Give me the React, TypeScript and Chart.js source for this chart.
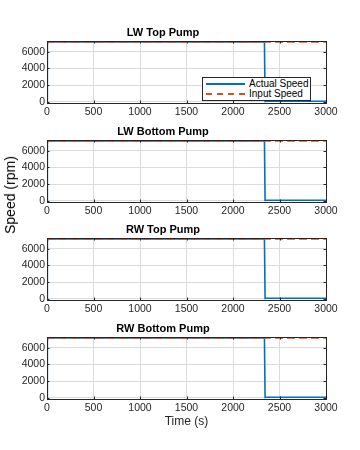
import React, { useEffect, useRef } from "react";
import { Chart, registerables } from "chart.js";

Chart.register(...registerables);

const titles = ["LW Top Pump", "LW Bottom Pump", "RW Top Pump", "RW Bottom Pump"];
const actualTime = [0, 4, 12, 2330, 2338, 2345, 2350, 3000];
const actualSpeed = [0, 6900, 7200, 7200, 7200, 40, 60, 60];
const inputTime = [0, 3000];
const inputSpeed = [7200, 7200];
const xTicks = [0, 500, 1000, 1500, 2000, 2500, 3000];
const yTicks = [0, 2000, 4000, 6000];

const BLUE = "#0072BD";
const ORANGE = "#D95319";
const AXIS = "#262626";
const FONT = "'Liberation Sans', Arial, Helvetica, sans-serif";

const plotTops = [41, 140, 238, 337];
const PLOT_H = 62;
const TITLE_H = 24;
const XAX_H = 16;
const LAST_XAX_H = 30;

const boxPlugin = {
  id: "matlabBox",
  afterDraw(chart: any) {
    const { ctx, chartArea } = chart;
    const { left, right, top, bottom } = chartArea;
    const xs = chart.scales.x;
    const ys = chart.scales.y;
    ctx.save();
    ctx.strokeStyle = AXIS;
    ctx.lineWidth = 1;
    ctx.beginPath();
    const tl = 2.5;
    xTicks.forEach((t) => {
      const px = Math.round(xs.getPixelForValue(t)) + 0.5;
      ctx.moveTo(px, bottom);
      ctx.lineTo(px, bottom - tl);
      ctx.moveTo(px, top);
      ctx.lineTo(px, top + tl);
    });
    yTicks.forEach((t) => {
      const py = Math.round(ys.getPixelForValue(t)) + 0.5;
      ctx.moveTo(left, py);
      ctx.lineTo(left + tl, py);
      ctx.moveTo(right, py);
      ctx.lineTo(right - tl, py);
    });
    ctx.stroke();
    ctx.strokeRect(Math.round(left) + 0.5, Math.round(top) + 0.5, Math.round(right - left), Math.round(bottom - top));
    ctx.restore();
  },
};

function Subplot({ index }: { index: number }) {
  const ref = useRef<HTMLCanvasElement | null>(null);
  const isLast = index === titles.length - 1;
  const xh = isLast ? LAST_XAX_H : XAX_H;
  const height = TITLE_H + PLOT_H + xh;

  useEffect(() => {
    if (!ref.current) return;
    const chart = new Chart(ref.current, {
      type: "line",
      data: {
        datasets: [
          {
            label: "Actual Speed",
            data: actualTime.map((t, i) => ({ x: t, y: actualSpeed[i] })),
            borderColor: BLUE,
            borderWidth: 1.6,
            pointRadius: 0,
            fill: false,
            tension: 0,
            order: 2,
          },
          {
            label: "Input Speed",
            data: inputTime.map((t, i) => ({ x: t, y: inputSpeed[i] })),
            borderColor: ORANGE,
            borderWidth: 1.8,
            borderDash: [8, 4],
            pointRadius: 0,
            fill: false,
            tension: 0,
            order: 1,
          },
        ],
      },
      options: {
        responsive: false,
        animation: false,
        events: [],
        layout: { padding: { left: 0, right: 34, top: 0, bottom: 0 } },
        plugins: {
          legend: { display: false },
          tooltip: { enabled: false },
          title: {
            display: true,
            text: titles[index],
            color: "#000",
            font: { family: FONT, size: 11, weight: "bold", lineHeight: 1.2 },
            padding: { top: 9.4, bottom: 1.4 },
          },
        },
        scales: {
          x: {
            type: "linear",
            min: 0,
            max: 3000,
            afterBuildTicks: (s: any) => {
              s.ticks = xTicks.map((v) => ({ value: v }));
            },
            afterFit: (s: any) => {
              s.height = xh;
            },
            ticks: {
              color: "#262626",
              font: { family: FONT, size: 10.5 },
              padding: 3,
              maxRotation: 0,
              autoSkip: false,
              callback: (v: any) => String(v),
            },
            grid: { color: "#dcdcdc", drawTicks: false, lineWidth: 1 },
            border: { display: false },
            title: isLast
              ? {
                  display: true,
                  text: "Time (s)",
                  color: "#262626",
                  font: { family: FONT, size: 12, lineHeight: 1.2 },
                  padding: { top: 0, bottom: 0 },
                }
              : { display: false },
          },
          y: {
            type: "linear",
            min: -150,
            max: 7300,
            afterBuildTicks: (s: any) => {
              s.ticks = yTicks.map((v) => ({ value: v }));
            },
            afterFit: (s: any) => {
              s.width = 47;
            },
            ticks: {
              color: "#262626",
              font: { family: FONT, size: 10.5 },
              padding: 2,
              callback: (v: any) => String(v),
            },
            grid: { color: "#dcdcdc", drawTicks: false, lineWidth: 1 },
            border: { display: false },
          },
        },
      },
      plugins: [boxPlugin],
    } as any);
    return () => chart.destroy();
  }, [index]);

  return (
    <canvas
      ref={ref}
      width={360}
      height={height}
      style={{ position: "absolute", left: 0, top: plotTops[index] - TITLE_H, width: 360, height }}
    />
  );
}

export default function App() {
  return (
    <div
      style={{
        position: "absolute",
        left: 0,
        top: 0,
        width: 360,
        height: 450,
        background: "#fff",
        overflow: "hidden",
        fontFamily: FONT,
      }}
    >
      {titles.map((_, i) => (
        <Subplot key={i} index={i} />
      ))}
      <div
        style={{
          position: "absolute",
          left: 10,
          top: 195,
          transform: "translate(-50%, -50%) rotate(-90deg)",
          fontSize: 14,
          color: "#000",
          whiteSpace: "nowrap",
          lineHeight: 1,
        }}
      >
        Speed (rpm)
      </div>
      <div
        style={{
          position: "absolute",
          left: 202,
          top: 77,
          width: 107,
          height: 22,
          background: "#fff",
          border: `1px solid ${AXIS}`,
          fontSize: 10,
          color: "#000",
          lineHeight: 1,
        }}
      >
        {[
          { label: "Actual Speed", color: BLUE, dashed: false },
          { label: "Input Speed", color: ORANGE, dashed: true },
        ].map((e, i) => (
          <div
            key={i}
            style={{ position: "absolute", left: 0, top: 1 + i * 9.5, height: 10, display: "flex", alignItems: "center" }}
          >
            <div
              style={{
                marginLeft: 3,
                width: 39,
                height: 0,
                borderTop: `2px ${e.dashed ? "dashed" : "solid"} ${e.color}`,
              }}
            />
            <span style={{ marginLeft: 4 }}>{e.label}</span>
          </div>
        ))}
      </div>
    </div>
  );
}
